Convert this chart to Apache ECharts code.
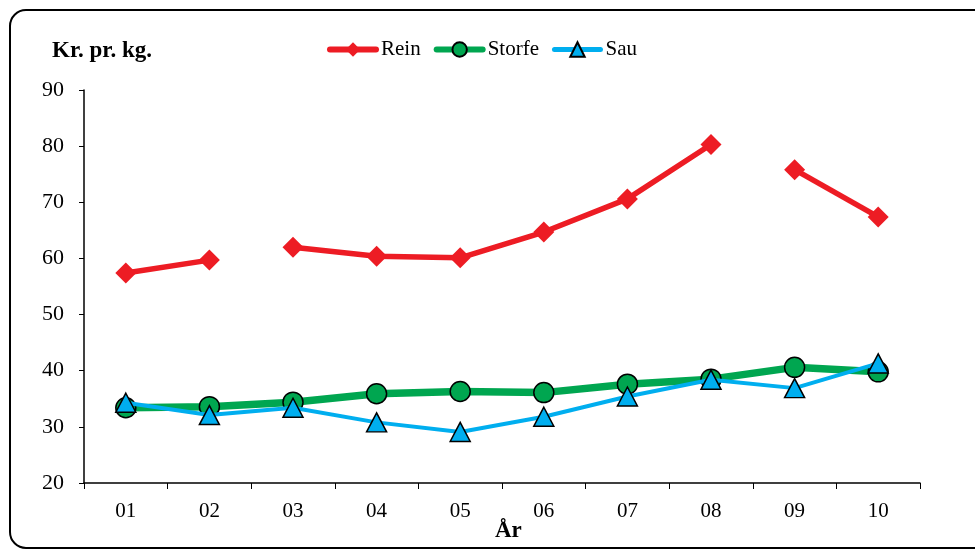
<!DOCTYPE html>
<html><head><meta charset="utf-8">
<script src="https://cdn.jsdelivr.net/npm/echarts@6/dist/echarts.min.js"></script>
<style>html,body{margin:0;padding:0;background:#fff}#c{width:975px;height:554px}</style>
</head><body><div id="c"></div>
<script>
const categories = ['01','02','03','04','05','06','07','08','09','10'];
const rein   = [57.4, 59.7, 62.0, 60.4, 60.1, 64.7, 70.6, 80.3, 75.8, 67.4];
const storfe = [33.4, 33.6, 34.4, 35.9, 36.3, 36.1, 37.6, 38.5, 40.6, 39.8];
const sau    = [34.3, 32.1, 33.4, 30.8, 29.1, 31.8, 35.4, 38.4, 36.9, 41.3];
// Rein line is broken after these category indices
const reinBreaks = [1, 7];
const yTicks = [20, 30, 40, 50, 60, 70, 80, 90];

const font = 'Liberation Serif';
const colors = { rein: '#ED1C24', storfe: '#00A650', sau: '#00AEEF' };

// build Rein segments
const segs = [];
let start = 0;
[...reinBreaks, rein.length - 1].forEach(b => { segs.push([start, b]); start = b + 1; });
const reinSeries = segs.map(([a, b]) => ({
  name: 'Rein', type: 'line',
  data: rein.map((v, i) => (i >= a && i <= b ? v : null)),
  connectNulls: false,
  symbol: 'diamond', symbolSize: 21, showAllSymbol: true,
  lineStyle: { color: colors.rein, width: 5.5 },
  itemStyle: { color: colors.rein, borderWidth: 0 },
  z: 3
}));

const chart = echarts.init(document.getElementById('c'), null, { renderer: 'canvas' });
chart.setOption({
  animation: false,
  backgroundColor: '#fff',
  textStyle: { fontFamily: font },
  graphic: [
    { type: 'rect', shape: { x: 10, y: 10, width: 1000, height: 538, r: 16 },
      style: { fill: 'none', stroke: '#000', lineWidth: 2 }, z: -1 },
    { type: 'text', left: 52, top: 40, style: { text: 'Kr. pr. kg.', font: 'bold 23px "Liberation Serif"', fill: '#000' } },
    { type: 'text', left: 495, top: 520, style: { text: 'År', font: 'bold 23px "Liberation Serif"', fill: '#000' } }
  ],
  legend: {
    top: 39, left: 327, padding: 0,
    itemWidth: 46, itemHeight: 18, itemGap: 13,
    textStyle: { fontFamily: font, fontSize: 21, color: '#000' },
    data: [
      { name: 'Rein', lineStyle: { width: 6, cap: 'round' } },
      { name: 'Storfe', lineStyle: { width: 6, cap: 'round' } },
      { name: 'Sau', lineStyle: { width: 5, cap: 'round' } }
    ]
  },
  grid: { left: 84, right: 55, top: 90, bottom: 71, containLabel: false },
  xAxis: {
    type: 'category', data: categories, boundaryGap: true,
    axisLine: { lineStyle: { color: '#000', width: 1.5 } },
    axisTick: { show: true, length: 6, lineStyle: { color: '#000' } },
    axisLabel: { color: '#000', fontFamily: font, fontSize: 21, margin: 18 },
    splitLine: { show: false }
  },
  yAxis: {
    type: 'value', min: yTicks[0], max: yTicks[yTicks.length - 1], interval: 10,
    axisLine: { show: true, lineStyle: { color: '#000', width: 1.5 } },
    axisTick: { show: true, length: 5, inside: false, lineStyle: { color: '#000' } },
    axisLabel: { color: '#000', fontFamily: font, fontSize: 22, margin: 20 },
    splitLine: { show: false }
  },
  series: [
    ...reinSeries,
    { name: 'Storfe', type: 'line', data: storfe,
      symbol: 'circle', symbolSize: 20,
      lineStyle: { color: colors.storfe, width: 7.5 },
      itemStyle: { color: colors.storfe, borderColor: '#000', borderWidth: 1.5 }, z: 4 },
    { name: 'Sau', type: 'line', data: sau,
      symbol: 'triangle', symbolSize: [20, 19],
      lineStyle: { color: colors.sau, width: 4 },
      itemStyle: { color: colors.sau, borderColor: '#000', borderWidth: 1.5 }, z: 5 }
  ]
});
</script></body></html>
